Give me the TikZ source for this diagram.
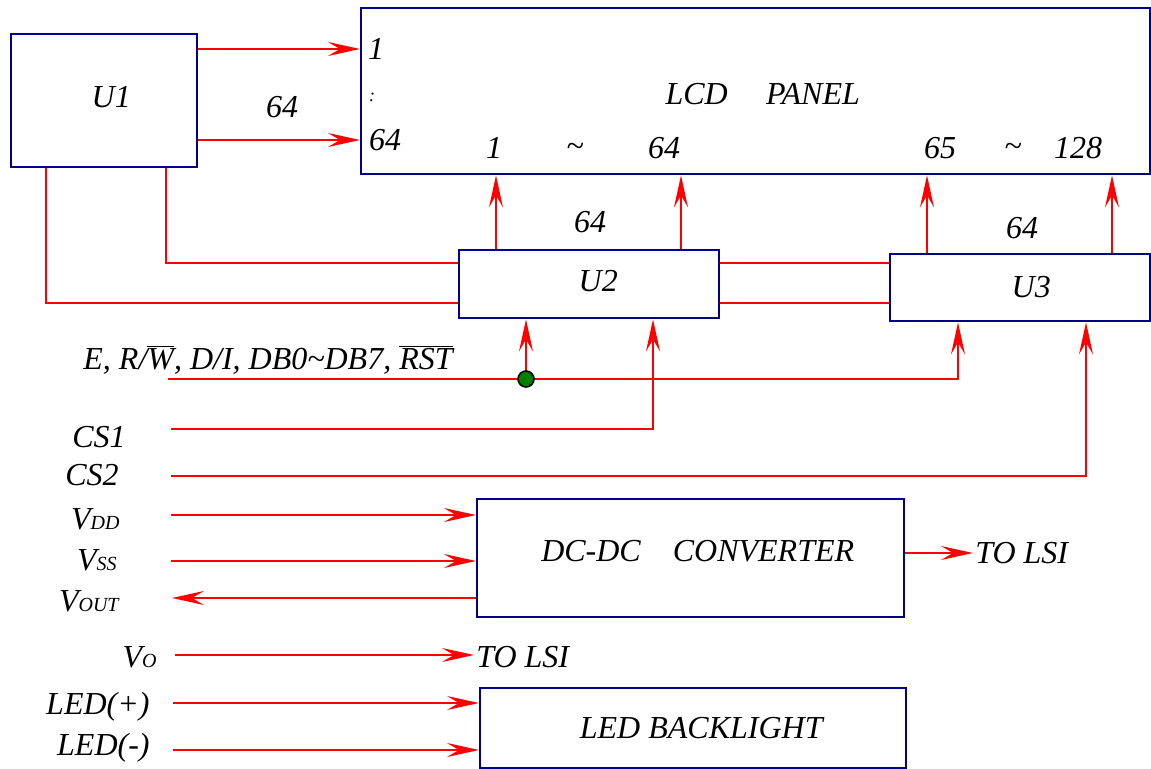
\documentclass[tikz,border=0pt]{standalone}
\usepackage{fontspec}
\setmainfont{Liberation Serif}
\usetikzlibrary{arrows.meta}
\definecolor{boxblue}{RGB}{0,0,140}
\definecolor{dotgreen}{RGB}{0,128,0}
\tikzset{
  unit/.style={draw=boxblue, line width=1.2pt, fill=white, inner sep=0pt, anchor=north west},
  wire/.style={red, line width=1pt},
  pin/.style={inner sep=1pt}
}
\newcommand{\ovl}[1]{$\overline{\hbox{#1}}$}
\newcommand{\sub}[1]{{\fontsize{10}{12}\selectfont #1}}

\begin{document}
\begin{tikzpicture}[x=0.5pt, y=-0.5pt, >={Stealth[length=16pt, width=7pt, inset=6pt]}, font=\itshape\fontsize{16}{19}\selectfont]
\useasboundingbox (0,0) rectangle (1151,769);

\node[unit, minimum width=394.5pt, minimum height=83pt, label={[xshift=3.5pt, yshift=-1.5pt]center:LCD\hspace{1.2em}PANEL}] (lcd) at (360,7) {};
\node[unit, minimum width=93pt, minimum height=66.5pt, label={[xshift=3.5pt, yshift=2pt]center:U1}] (u1) at (10,33) {};
\node[unit, minimum width=130pt, minimum height=34pt, label={[xshift=4.5pt, yshift=1.5pt]center:U2}] (u2) at (458,249) {};
\node[unit, minimum width=130pt, minimum height=33.5pt, label={[xshift=5.5pt, yshift=0.5pt]center:U3}] (u3) at (889,253) {};
\node[unit, minimum width=213.5pt, minimum height=59pt, label={[xshift=3.5pt, yshift=3.5pt]center:DC-DC\quad CONVERTER}] (dc) at (476,498) {};
\node[unit, minimum width=213pt, minimum height=40pt, label={[xshift=4pt]center:LED BACKLIGHT}] (led) at (479,687) {};

\node[pin] (r1) at (376,49) {1};
\node[pin, font=\itshape\fontsize{9}{10}\selectfont] at (372,97) {:};
\node[pin] (r64) at (385,140) {64};
\node[pin] at (282,107) {64};
\node[pin] at (494,148) {1};
\node[pin] at (575,150) {\textasciitilde};
\node[pin] at (664,148) {64};
\node[pin] at (940,148) {65};
\node[pin] at (1013,150) {\textasciitilde};
\node[pin] at (1078,148) {128};
\node[pin] at (590,222) {64};
\node[pin] at (1022,228) {64};

\node[pin, anchor=base west] at (81,370) {E, R/\ovl{W}, D/I, DB0\textasciitilde DB7, \ovl{RST}};
\node[pin, anchor=east] at (128,437) {CS1};
\node[pin, anchor=east] at (121,475) {CS2};
\node[pin, anchor=east] at (122,519) {V\sub{DD}};
\node[pin, anchor=east] at (119,560) {V\sub{SS}};
\node[pin, anchor=east] at (121,601) {V\sub{OUT}};
\node[pin, anchor=east] at (159,657) {V\sub{O}};
\node[pin, anchor=east] at (152,707) {LED(+)};
\node[pin, anchor=east] at (152,748) {LED(-)};

\coordinate (ein) at (168,379);
\coordinate (cs1) at (171,429);
\coordinate (cs2) at (171,476);
\coordinate (vdd) at (171,515);
\coordinate (vss) at (171,561);
\coordinate (vout) at (172,598);
\coordinate (vo) at (175,655);
\coordinate (ledp) at (173,703);
\coordinate (ledm) at (173,750);

\draw[wire,->] (u1.east |- r1) -- (lcd.west |- r1);
\draw[wire,->] (u1.east |- r64) -- (lcd.west |- r64);

\foreach \u in {u2,u3}
  \foreach \dx in {19pt,111.5pt}
    \draw[wire,->] ([xshift=\dx]\u.north west) -- ([xshift=\dx]\u.north west |- lcd.south);

\draw[wire] ([xshift=78pt]u1.south west) |- ([yshift=-7pt]u2.north west);
\draw[wire] ([xshift=18pt]u1.south west) |- ([yshift=8pt]u2.south west);
\draw[wire] ([yshift=-7pt]u2.north east) -- ([yshift=-7pt]u2.north east -| u3.west);
\draw[wire] ([yshift=8pt]u2.south east) -- ([yshift=8pt]u2.south east -| u3.west);

\draw[wire,->] (ein) -| ([xshift=34.5pt]u3.south west);
\coordinate (j) at ([xshift=34pt]u2.south west |- ein);
\draw[wire,->] (j) -- ([xshift=34pt]u2.south west);
\node[circle, draw=black, fill=dotgreen, line width=0.8pt, inner sep=0pt, minimum size=8pt] (dot) at (j) {};
\draw[wire,->] (cs1) -| ([xshift=97.5pt]u2.south west);
\draw[wire,->] (cs2) -| ([xshift=98.5pt]u3.south west);

\draw[wire,->] (vdd) -- (vdd -| dc.west);
\draw[wire,->] (vss) -- (vss -| dc.west);
\draw[wire,->] (vout -| dc.west) -- (vout);
\node[pin, anchor=west] (lsi1) at (973,553) {TO LSI};
\draw[wire,->] (dc.east |- lsi1) -- (lsi1.west);
\node[pin, anchor=west] (lsi2) at (474,657) {TO LSI};
\draw[wire,->] (vo) -- (vo -| lsi2.west);

\draw[wire,->] (ledp) -- (ledp -| led.west);
\draw[wire,->] (ledm) -- (ledm -| led.west);
\end{tikzpicture}
\end{document}
